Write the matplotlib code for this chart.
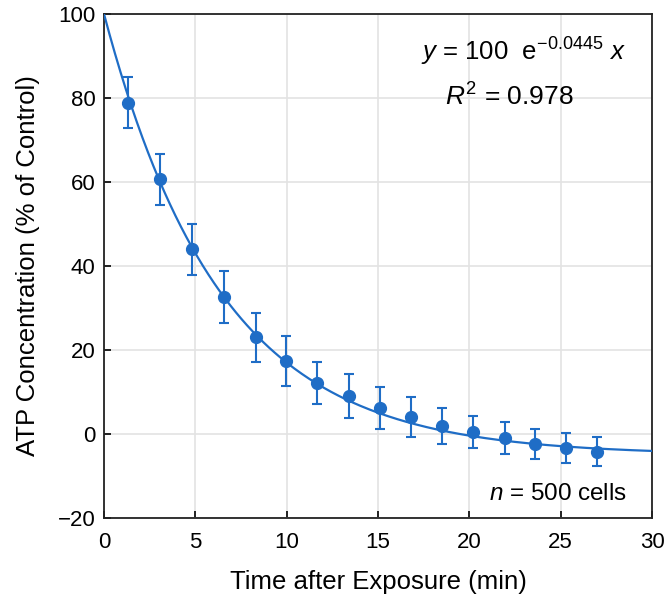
import numpy as np
import matplotlib
matplotlib.use("Agg")
import matplotlib.pyplot as plt

plt.rcParams['font.family'] = ['Liberation Sans', 'DejaVu Sans']
plt.rcParams['mathtext.fontset'] = 'custom'
plt.rcParams['mathtext.rm'] = 'Liberation Sans'
plt.rcParams['mathtext.it'] = 'Liberation Sans:italic'
plt.rcParams['mathtext.bf'] = 'Liberation Sans:bold'

# Data
time_min = [1.3, 3.05, 4.8, 6.55, 8.3, 9.95, 11.65, 13.4, 15.1, 16.8, 18.5, 20.2, 21.95, 23.6, 25.3, 27.0]
atp_pct = [78.9, 60.6, 44.0, 32.6, 23.0, 17.4, 12.2, 9.0, 6.3, 4.1, 1.9, 0.5, -0.9, -2.3, -3.3, -4.2]
atp_err = [6.1, 6.1, 6.1, 6.1, 5.9, 6.0, 5.0, 5.3, 5.0, 4.7, 4.2, 3.8, 3.8, 3.6, 3.6, 3.4]

# Fitted curve parameters (offset exponential as drawn)
fit_amp = 105.0
fit_rate = 0.1563
fit_offset = -5.0

xticks = [0, 5, 10, 15, 20, 25, 30]
yticks = [-20, 0, 20, 40, 60, 80, 100]

blue = '#1f6dc6'

fig = plt.figure(figsize=(6.68, 5.98), dpi=100)
ax = fig.add_axes([104/668, 80/598, 548/668, 504/598])

xf = np.linspace(0, 30, 300)
ax.plot(xf, fit_amp * np.exp(-fit_rate * xf) + fit_offset, color=blue, lw=1.6, zorder=3)
ax.errorbar(time_min, atp_pct, yerr=atp_err, fmt='o', color=blue, ms=8.5,
            elinewidth=1.5, capsize=3.5, capthick=1.5, zorder=4)

ax.set_xlim(0, 30)
ax.set_ylim(-20, 100)
ax.set_xticks(xticks)
ax.set_yticks(yticks)
ax.set_yticklabels(['\u221220' if v < 0 else str(v) for v in yticks])
ax.grid(True, color='#e3e3e3', lw=1.2, zorder=0)
ax.set_axisbelow(True)
ax.tick_params(direction='in', length=5, width=1.2, labelsize=16, colors='black', pad=6)
ax.tick_params(axis='x', pad=10)
for s in ax.spines.values():
    s.set_color('#222222')
    s.set_linewidth(1.3)

ax.set_xlabel('Time after Exposure (min)', fontsize=18.5, labelpad=12)
ax.set_ylabel('ATP Concentration (% of Control)', fontsize=18.5, labelpad=13)

ax.text(0.765, 0.925, r'$y$ = 100  $\mathrm{e}^{\mathrm{-0.0445}}$ $x$', transform=ax.transAxes,
        ha='center', va='center', fontsize=18.5)
ax.text(0.74, 0.835, r'$R^2$ = 0.978', transform=ax.transAxes,
        ha='center', va='center', fontsize=19)
ax.text(0.955, 0.048, r'$n$ = 500 cells', transform=ax.transAxes,
        ha='right', va='center', fontsize=17.5)

fig.savefig('out.png', dpi=100)
